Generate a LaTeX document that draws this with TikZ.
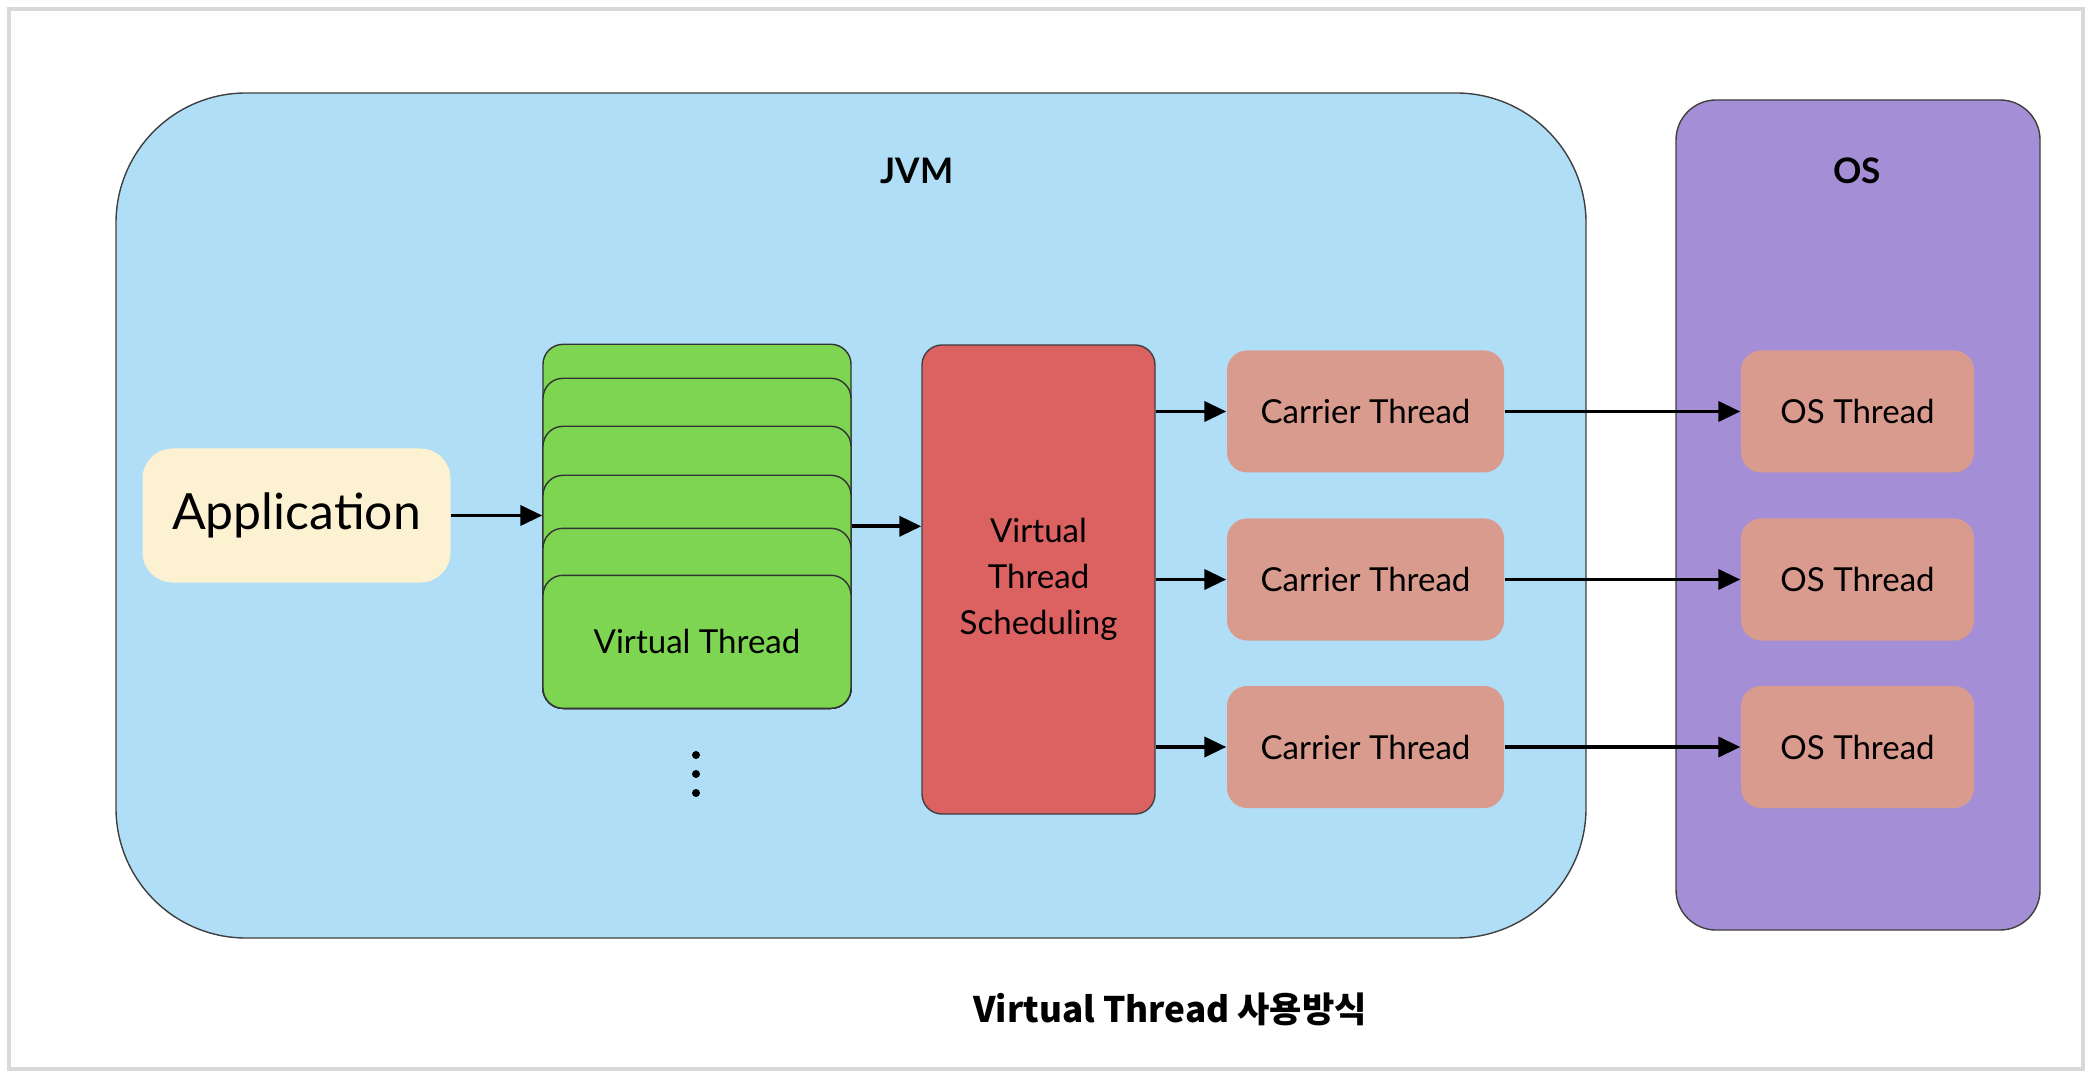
\documentclass[tikz,border=0pt]{standalone}
\usepackage{fontspec}
\setmainfont{Lato}
\newfontfamily\krfont{Noto Sans CJK KR}
\usetikzlibrary{arrows.meta}
\definecolor{jvmblue}{RGB}{176,222,246}
\definecolor{ospurple}{RGB}{164,143,214}
\definecolor{appyellow}{RGB}{252,242,210}
\definecolor{vtgreen}{RGB}{126,213,82}
\definecolor{schedred}{RGB}{220,98,98}
\definecolor{threadpink}{RGB}{218,155,143}
\tikzset{
  area/.style={
      draw=black!75,
      line width=0.4pt,
  },
  header/.style={
      font=\bfseries\fontsize{10}{12}\selectfont
  },
  vthread/.style={
      draw=black!80,
      fill=vtgreen,
      rounded corners=2mm,
      minimum width=30.8mm,
      anchor=south,
      font=\fontsize{9.4}{11}\selectfont
  },
  thread/.style={
      fill=threadpink,
      rounded corners=2mm,
      minimum height=12.2mm,
      font=\fontsize{9.4}{11}\selectfont
  },
  link/.style={
      -{Triangle[length=2.2mm,width=2mm]},
      line width=1.1pt
  }
}
\begin{document}
\begin{tikzpicture}[x=1mm,y=-1mm]
    \useasboundingbox (0,0) rectangle (209.2,107.8);
    \draw[gray!30, line width=1.2pt] (0.9,0.9) rectangle (208.3,106.9);
    \node[area, fill=jvmblue, rounded corners=13mm, minimum width=147mm, minimum height=84.5mm] (jvm) at (85.1,51.55) {};
    \node[header] (jvmlabel) at (91.7,17.1) {JVM};
    \node[area, fill=ospurple, rounded corners=4mm, minimum width=36.4mm, minimum height=83mm] (os) at (185.8,51.5) {};
    \node[header] (oslabel) at (185.7,17.1) {OS};
    \node[fill=appyellow, rounded corners=3mm, minimum width=30.8mm, minimum height=13.4mm,
        font=\fontsize{14.2}{16}\selectfont] (app) at (29.65,51.55) {Application};
    \foreach \t [count=\i] in {34.5,37.9,42.7,47.6,52.9}
        \node[vthread, minimum height={(70.9-\t)*1mm}] (vt\i) at (69.7,70.9) {};
    \node[vthread, minimum height=13.3mm] (vt6) at (69.7,70.9) {Virtual Thread};
    \foreach \y [count=\i] in {75.5,77.4,79.3}
        \node[circle, fill, inner sep=0pt, minimum size=0.8mm] (dot\i) at (69.6,\y) {};
    \node[area, fill=schedred, rounded corners=2mm, minimum width=23.3mm, minimum height=46.9mm,
        align=center, font=\fontsize{9.4}{13}\selectfont] (sched) at (103.85,57.95) {Virtual\\Thread\\Scheduling};
    \draw[link] (app) -- (app -| vt1.west);
    \draw[link] (vt1.east) -- (vt1.east -| sched.west);
    \foreach \y [count=\i] in {41.15,57.95,74.7} {
        \node[thread, minimum width=27.7mm] (ct\i) at (136.55,\y) {Carrier Thread};
        \node[thread, minimum width=23.3mm] (ot\i) at (185.75,\y) {OS Thread};
        \draw[link] (sched.east |- ct\i.west) -- (ct\i.west);
        \draw[link] (ct\i) -- (ot\i);
    }
    \node[font=\krfont\bfseries\fontsize{10}{12}\selectfont] (title) at (117,100.9) {Virtual Thread 사용방식};
\end{tikzpicture}
\end{document}
